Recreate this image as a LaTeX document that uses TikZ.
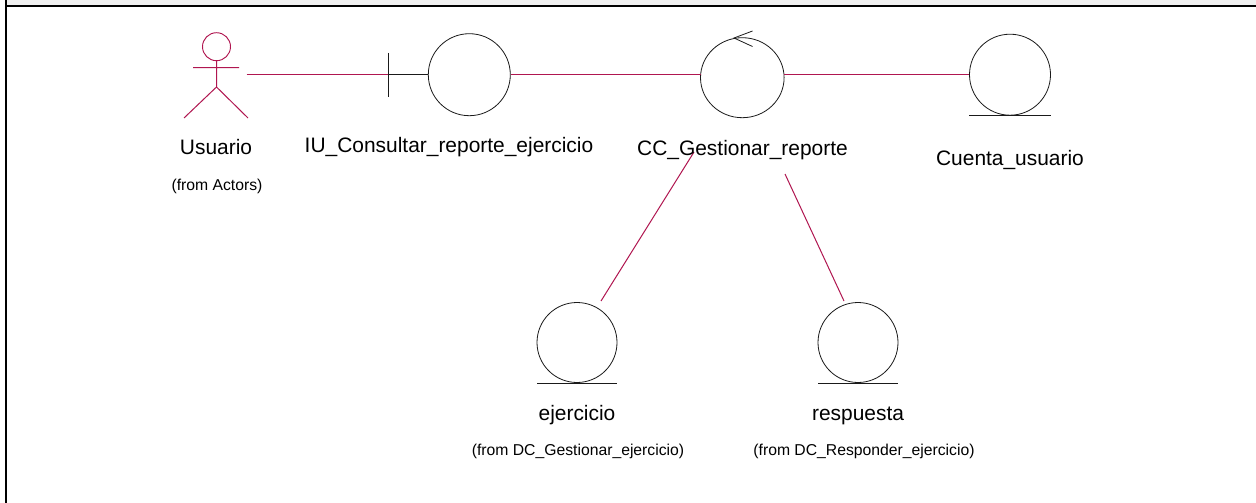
\documentclass[tikz,border=0pt]{standalone}
\usepackage{fontspec}
\usetikzlibrary{shapes.geometric}
\setmainfont{Liberation Sans}
\definecolor{assoc}{HTML}{B01650}
\definecolor{band}{HTML}{F0F0F0}
\definecolor{ink}{HTML}{1A1A1A}
\tikzset{
  x=0.75pt,y=-0.75pt,
  frameline/.style={draw=black,line width=1.5pt},
  assocline/.style={draw=assoc,line width=0.75pt},
  outline/.style={draw=ink,line width=0.6pt},
  roundshape/.style={circle,outline,inner sep=0pt,minimum size=#1*0.75pt},
  mainlabel/.style={anchor=base,inner sep=0pt,font=\fontsize{15.7pt}{18pt}\selectfont,text=black},
  fromlabel/.style={anchor=base,inner sep=0pt,font=\fontsize{11.8pt}{14pt}\selectfont,text=black},
}
\begin{document}
\begin{tikzpicture}
\useasboundingbox (0,0) rectangle (1256,503);
\fill[white] (0,0) rectangle (1256,503);
\fill[band] (7,0) rectangle (1256,5);
\draw[frameline] (6,0) -- (6,503);
\draw[frameline] (5,6) -- (1256,6);

% actor
\node[circle,draw=assoc,line width=0.7pt,inner sep=0pt,minimum size=21pt] (usuarioHead) at (216.5,46.7) {};
\coordinate (armL) at (193,67.7);
\coordinate (armR) at (239,67.7);
\coordinate (hip) at (216.5,87);
\coordinate (legL) at (184,118);
\coordinate (legR) at (248,118);
\coordinate (usuarioR) at (246.5,74.7);
\draw[assocline] (usuarioHead.south) -- (hip) (armL) -- (armR) (hip) -- (legL) (hip) -- (legR);

% boundary
\node[roundshape=82] (iu) at (469.3,74.7) {};
\coordinate (iuBar) at (388,74.7);
\coordinate (iuBarT) at (388,53);
\coordinate (iuBarB) at (388,97);
\draw[outline] (iuBarT) -- (iuBarB);
\draw[outline] (iuBar) -- (iu.west);

% control
\node[ellipse,outline,inner sep=0pt,minimum width=62.7pt,minimum height=60pt] (ctrl) at (742.3,77.7) {};
\coordinate (ctrlIn) at (700.8,74.7);
\coordinate (ctrlOut) at (783.8,74.7);
\coordinate (ctrlTip) at (734,38);
\coordinate (ctrlA) at (752.5,31);
\coordinate (ctrlB) at (752.5,46.5);
\draw[outline] (ctrlA) -- (ctrlTip) -- (ctrlB);

% entities
\node[roundshape=81] (cuenta) at (1010,74.7) {};
\coordinate (cuentaL) at (969,115.3);
\coordinate (cuentaR) at (1051,115.3);
\draw[outline] (cuentaL) -- (cuentaR);

\node[roundshape=80] (ejer) at (577,342.5) {};
\coordinate (ejerL) at (537,383);
\coordinate (ejerR) at (617,383);
\draw[outline] (ejerL) -- (ejerR);

\node[roundshape=80] (resp) at (858,342.5) {};
\coordinate (respL) at (818,383);
\coordinate (respR) at (898,383);
\draw[outline] (respL) -- (respR);

% associations
\coordinate (ctrlLow1) at (694,152);
\coordinate (ejerUp) at (601,301);
\coordinate (ctrlLow2) at (785,174);
\coordinate (respUp) at (844,301);
\draw[assocline] (usuarioR) -- (iuBar);
\draw[assocline] (iu.east) -- (ctrlIn);
\draw[assocline] (ctrlOut) -- (cuenta.west);
\draw[assocline] (ctrlLow1) -- (ejerUp);
\draw[assocline] (ctrlLow2) -- (respUp);

% labels
\node[mainlabel] (lUsuario) at (216,154) {Usuario};
\node[fromlabel] (lActors) at (217,190) {(from Actors)};
\node[mainlabel] (lIu) at (449,152) {IU\_Consultar\_reporte\_ejercicio};
\node[mainlabel] (lCc) at (742.5,155) {CC\_Gestionar\_reporte};
\node[mainlabel] (lCuenta) at (1010,165) {Cuenta\_usuario};
\node[mainlabel] (lEjer) at (577,420) {ejercicio};
\node[fromlabel] (lEjerF) at (578,455) {(from DC\_Gestionar\_ejercicio)};
\node[mainlabel] (lResp) at (858,420) {respuesta};
\node[fromlabel] (lRespF) at (864,455) {(from DC\_Responder\_ejercicio)};
\end{tikzpicture}
\end{document}
